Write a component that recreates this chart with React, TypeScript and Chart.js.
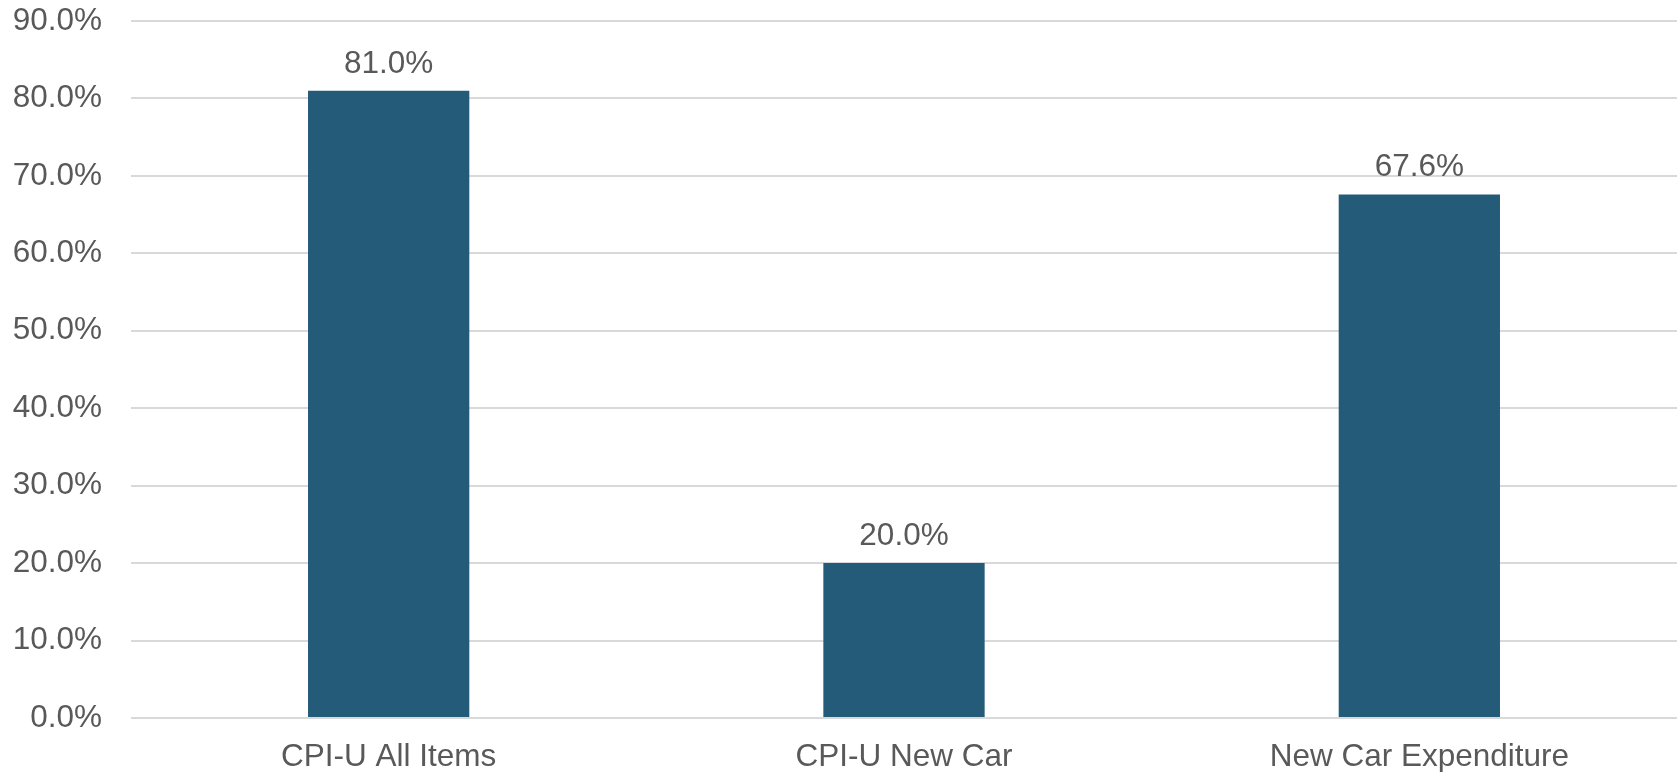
import React, { useEffect, useRef } from "react";
import { Chart, registerables } from "chart.js";

Chart.register(...registerables);

const categories = ["CPI-U All Items", "CPI-U New Car", "New Car Expenditure"];
const changeValues = [81.0, 20.0, 67.6];
const yTickValues = [0, 10, 20, 30, 40, 50, 60, 70, 80, 90];

const FONT = "'Liberation Sans', Arial, sans-serif";
const FONT_SIZE = 31.5;
const TEXT_COLOR = "#595959";

// Writes each bar's value above it
const valueLabels = {
  id: "valueLabels",
  afterDatasetsDraw(chart: any) {
    const ctx = chart.ctx;
    const meta = chart.getDatasetMeta(0);
    const data = chart.data.datasets[0].data as number[];
    ctx.save();
    ctx.font = `${FONT_SIZE}px ${FONT}`;
    ctx.fillStyle = TEXT_COLOR;
    ctx.textAlign = "center";
    ctx.textBaseline = "alphabetic";
    meta.data.forEach((bar: any, i: number) => {
      ctx.fillText(`${data[i].toFixed(1)}%`, bar.x, bar.y - 18);
    });
    ctx.restore();
  },
};

export default function App() {
  const canvasRef = useRef<HTMLCanvasElement>(null);

  useEffect(() => {
    if (!canvasRef.current) return;
    const chart = new Chart(canvasRef.current, {
      type: "bar",
      data: {
        labels: categories,
        datasets: [
          {
            data: changeValues,
            backgroundColor: "#245B78",
            borderWidth: 0,
            categoryPercentage: 1,
            barPercentage: 0.313,
          },
        ],
      },
      options: {
        animation: false,
        responsive: false,
        layout: { padding: { top: 21, right: 3, bottom: 0, left: 0 } },
        plugins: {
          legend: { display: false },
          tooltip: { enabled: false },
        },
        scales: {
          x: {
            grid: { display: false, drawTicks: false },
            border: { display: false },
            ticks: {
              color: TEXT_COLOR,
              font: { family: FONT, size: FONT_SIZE },
              padding: 20,
              maxRotation: 0,
            },
            afterFit(scale: any) {
              scale.height = 54;
              scale.paddingLeft = 0;
              scale.paddingRight = 0;
            },
          },
          y: {
            min: 0,
            max: 90,
            afterBuildTicks(scale: any) {
              scale.ticks = yTickValues.map((v) => ({ value: v }));
            },
            grid: {
              color: "#d9d9d9",
              lineWidth: 2,
              drawTicks: false,
            },
            border: { display: false },
            ticks: {
              color: TEXT_COLOR,
              font: { family: FONT, size: FONT_SIZE },
              padding: 29,
              callback: (v: any) => `${Number(v).toFixed(1)}%`,
            },
            afterFit(scale: any) {
              scale.width = 131;
              scale.paddingTop = 0;
              scale.paddingBottom = 0;
            },
          },
        },
      },
      plugins: [valueLabels],
    });
    return () => chart.destroy();
  }, []);

  return (
    <div style={{ position: "fixed", left: 0, top: 0, width: 1680, height: 772, background: "#fff" }}>
      <canvas ref={canvasRef} width={1680} height={772} style={{ display: "block" }} />
    </div>
  );
}
